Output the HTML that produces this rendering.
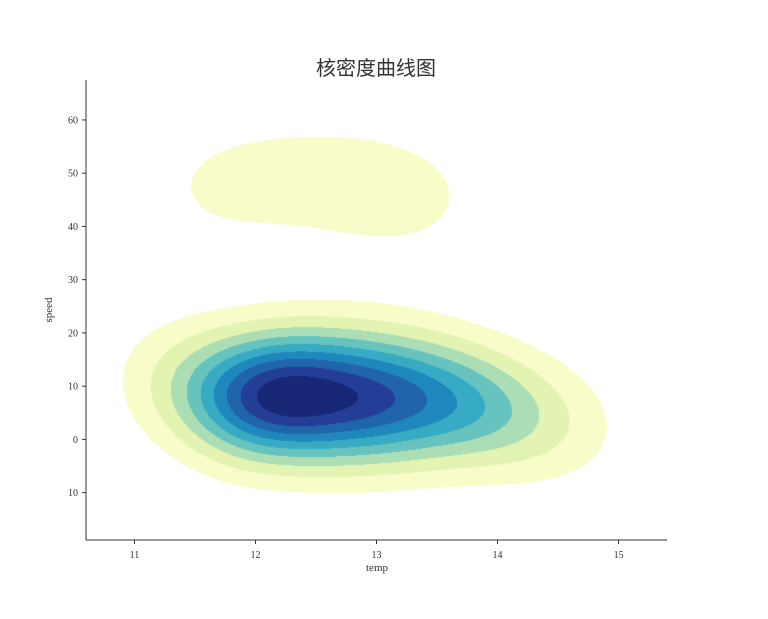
<!DOCTYPE html>
<html><head><meta charset="utf-8"><style>
body{margin:0;background:#fff;width:768px;height:619px;overflow:hidden;position:relative;font-family:"Liberation Serif","DejaVu Serif",serif}
#title{position:absolute;left:276px;width:200px;top:52px;text-align:center;font:20px "Liberation Sans","Noto Sans CJK SC",sans-serif;color:#333}
canvas,svg{position:absolute;left:0;top:0}
</style></head><body>
<canvas id="cv" width="768" height="619"></canvas>
<svg id="ax" width="768" height="619"></svg>
<div id="title">核密度曲线图</div>
<script>
const temps=[11.9,12.0,12.1,12.2,12.3,12.2,12.2,12.7,12.9,12.0,12.4,13.2,13.5,13.8,14.0,14.3,11.5,11.3,12.8,13.4,12.6,13.0,14.6,11.7,12.1,13.0,13.3,13.6,13.9,12.6,12.9,11.6,12.1,12.6,13.0,13.4];
const speeds=[8,7,9,8,7,10,8.5,8,8,5,12,7,6,6,5,4,11,13,14,12,3,2,1,6,8,8,8,7,6,8,8,47,49,49,47,45];
const xTicks=[11,12,13,14,15];
const yTicks=[60,50,40,30,20,10,0,-10];
const yTickLabels=["60","50","40","30","20","10","0","10"];
const colors=["#f7fcc9","#e2f3b2","#acdeb6","#67c3be","#36abc3","#1e88bc","#2064ab","#243e98","#182776"];
const L=86,R=667,T=80,B=540,x0=10.6,x1=15.4,y0=-18.9,y1=67.5;
const sx=v=>L+(v-x0)/(x1-x0)*(R-L), sy=v=>B-(v-y0)/(y1-y0)*(B-T);
const ix=p=>x0+(p-L)/(R-L)*(x1-x0), iy=p=>y0+(B-p)/(B-T)*(y1-y0);
const hx=0.42,hy=8;
function dens(x,y){let s=0;for(let i=0;i<temps.length;i++){const a=(x-temps[i])/hx,b=(y-speeds[i])/hy;s+=Math.exp(-0.5*(a*a+b*b));}return s;}
const W=R-L,H=B-T,D=new Float32Array(W*H);let mx=0;
for(let j=0;j<H;j++)for(let i=0;i<W;i++){const d=dens(ix(L+i+0.5),iy(T+j+0.5));D[j*W+i]=d;if(d>mx)mx=d;}
const ctx=document.getElementById('cv').getContext('2d');
const img=ctx.createImageData(W,H);
const rgb=colors.map(c=>[parseInt(c.slice(1,3),16),parseInt(c.slice(3,5),16),parseInt(c.slice(5,7),16)]);
for(let k=0;k<W*H;k++){const lv=Math.floor(D[k]/mx*10);let c=[255,255,255];if(lv>=1)c=rgb[Math.min(lv,9)-1];img.data[k*4]=c[0];img.data[k*4+1]=c[1];img.data[k*4+2]=c[2];img.data[k*4+3]=255;}
ctx.putImageData(img,L,T);
const svg=document.getElementById('ax');const NS='http://www.w3.org/2000/svg';
function el(t,a,p){const e=document.createElementNS(NS,t);for(const k in a)e.setAttribute(k,a[k]);(p||svg).appendChild(e);return e;}
let e=el('line',{x1:L,y1:T,x2:L,y2:B,stroke:'#333','stroke-width':1});


e=el('line',{x1:L,y1:B,x2:R,y2:B,stroke:'#333','stroke-width':1});


xTicks.forEach(v=>{const x=sx(v);el('line',{x1:x,y1:B,x2:x,y2:B+4,stroke:'#333'});
 const t=el('text',{x:x,y:B+18,'text-anchor':'middle','font-size':10,fill:'#333'});t.textContent=v;
 
 });
yTicks.forEach((v,i)=>{const y=sy(v);el('line',{x1:L-4,y1:y,x2:L,y2:y,stroke:'#333'});
 const t=el('text',{x:L-8,y:y+3.5,'text-anchor':'end','font-size':10,fill:'#333'});t.textContent=yTickLabels[i];
 
 });
let t=el('text',{x:377,y:571,'text-anchor':'middle','font-size':11,fill:'#333'});t.textContent='temp';


t=el('text',{x:52,y:310,'text-anchor':'middle','font-size':11,fill:'#333',transform:'rotate(-90 52 310)'});t.textContent='speed';


</script>
</body></html>
